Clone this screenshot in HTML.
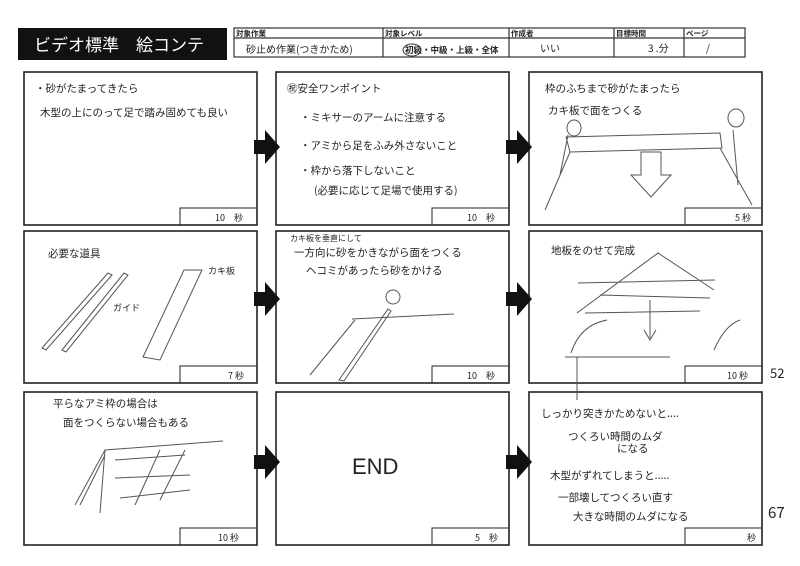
<!DOCTYPE html>
<html><head><meta charset="utf-8"><style>
body{margin:0;background:#fff;width:800px;height:566px;overflow:hidden;font-family:"Liberation Sans","Noto Sans CJK JP",sans-serif}
svg{display:block}
.h{font-family:"Noto Sans CJK JP",sans-serif;fill:#222}
</style></head><body>
<svg width="800" height="566" viewBox="0 0 800 566" xmlns="http://www.w3.org/2000/svg">
<rect x="18" y="28" width="209" height="32" fill="#111"/>
<text x="34" y="51" fill="#fff" font-size="17" font-family="Noto Sans CJK JP, sans-serif">ビデオ標準　絵コンテ</text>
<g stroke="#333" fill="none" stroke-width="1.2">
<rect x="234" y="28" width="511" height="29"/>
<line x1="234" y1="38" x2="745" y2="38"/>
<line x1="383" y1="28" x2="383" y2="57"/><line x1="509" y1="28" x2="509" y2="57"/>
<line x1="614" y1="28" x2="614" y2="57"/><line x1="684" y1="28" x2="684" y2="57"/>
</g>
<g font-size="7.5" class="h" font-weight="bold">
<text x="236" y="36">対象作業</text><text x="385" y="36">対象レベル</text><text x="511" y="36">作成者</text><text x="616" y="36">目標時間</text><text x="686" y="36">ページ</text>
<text x="405" y="53" font-size="8.5">初級・中級・上級・全体</text>
</g>
<ellipse cx="412" cy="50" rx="9" ry="6" fill="none" stroke="#333"/>
<g class="h" font-size="10">
<text x="246" y="53">砂止め作業(つきかため)</text><text x="540" y="52">いい</text><text x="648" y="52">3 .分</text><text x="706" y="52">/</text>
</g>
<g stroke="#222" stroke-width="1.6" fill="#fff">
<rect x="24" y="72" width="233" height="153"/><rect x="276" y="72" width="233" height="153"/><rect x="529" y="72" width="233" height="153"/>
<rect x="24" y="231" width="233" height="152"/><rect x="276" y="231" width="233" height="152"/><rect x="529" y="231" width="233" height="152"/>
<rect x="24" y="392" width="233" height="153"/><rect x="276" y="392" width="233" height="153"/><rect x="529" y="392" width="233" height="153"/>
</g>
<g stroke="#222" stroke-width="1" fill="none">
<path d="M180 225V208H257M432 225V208H509M685 225V208H762"/>
<path d="M180 383V366H257M432 383V366H509M685 383V366H762"/>
<path d="M180 545V528H257M432 545V528H509M685 545V528H762"/>
</g>
<g fill="#111">
<path d="M254 140h11v-10l15 17-15 17v-10h-11z"/><path d="M506 140h11v-10l15 17-15 17v-10h-11z"/>
<path d="M254 292h11v-10l15 17-15 17v-10h-11z"/><path d="M506 292h11v-10l15 17-15 17v-10h-11z"/>
<path d="M254 455h11v-10l15 17-15 17v-10h-11z"/><path d="M506 455h11v-10l15 17-15 17v-10h-11z"/>
</g>
<g class="h" font-size="9">
<text x="215" y="221">10　秒</text><text x="467" y="221">10　秒</text><text x="735" y="221">5 秒</text>
<text x="228" y="379">7 秒</text><text x="467" y="379">10　秒</text><text x="727" y="379">10 秒</text>
<text x="218" y="541">10 秒</text><text x="475" y="541">5　秒</text><text x="747" y="541">秒</text>
</g>
<g class="h" font-size="10.5">
<text x="35" y="92">・砂がたまってきたら</text><text x="40" y="116">木型の上にのって足で踏み固めても良い</text>
<text x="287" y="92">㊗安全ワンポイント</text>
<text x="300" y="121">・ミキサーのアームに注意する</text><text x="300" y="149">・アミから足をふみ外さないこと</text>
<text x="300" y="174">・枠から落下しないこと</text><text x="314" y="194">(必要に応じて足場で使用する)</text>
<text x="545" y="92">枠のふちまで砂がたまったら</text><text x="548" y="114">カキ板で面をつくる</text>
<text x="48" y="257">必要な道具</text><text x="208" y="274" font-size="9">カキ板</text><text x="113" y="311" font-size="9">ガイド</text>
<text x="290" y="241" font-size="8">カキ板を垂直にして</text><text x="294" y="256">一方向に砂をかきながら面をつくる</text><text x="306" y="274">ヘコミがあったら砂をかける</text>
<text x="551" y="254">地板をのせて完成</text>
<text x="53" y="407">平らなアミ枠の場合は</text><text x="63" y="426">面をつくらない場合もある</text>
<text x="352" y="474" font-size="22" font-family="Liberation Sans,sans-serif">END</text>
<text x="541" y="417">しっかり突きかためないと....</text><text x="568" y="440">つくろい時間のムダ</text><text x="617" y="452">になる</text>
<text x="550" y="479">木型がずれてしまうと.....</text><text x="558" y="501">一部壊してつくろい直す</text><text x="573" y="520">大きな時間のムダになる</text>
<text x="770" y="378" font-size="13">52</text><text x="768" y="518" font-size="15">67</text>
</g>
<g stroke="#555" stroke-width="1" fill="none">
<ellipse cx="574" cy="128" rx="7" ry="8"/><ellipse cx="736" cy="118" rx="8" ry="9"/>
<path d="M566 137L720 133L722 148L570 152Z M570 152L545 210 M568 135L560 175 M733 130L738 185 M720 148L752 205 M641 152v23h-10l20 22l20-22h-10v-23z"/>
<path d="M42 348L108 273L112 275L46 350Z M62 350L124 273L128 275L66 352Z M143 357L184 270L202 270L160 360Z"/>
<circle cx="393" cy="297" r="7"/><path d="M352 319L454 314 M310 375L355 320 M339 380L388 309L391 311L344 381Z"/>
<path d="M577 313L658 253L714 290 M578 283L715 280 M600 295L710 298 M585 313L700 311 M650 300V338 M644 330L650 340L656 330 M571 353Q580 325 607 320 M714 350Q725 325 740 320 M565 357H670 M577 357V400"/>
<path d="M100 513L105 450L223 441 M105 450L75 505 M115 460L185 455 M115 478L190 475 M120 498L190 490 M135 505L160 450 M160 500L185 450 M80 505L105 455"/>
</g>
</svg>
</body></html>
